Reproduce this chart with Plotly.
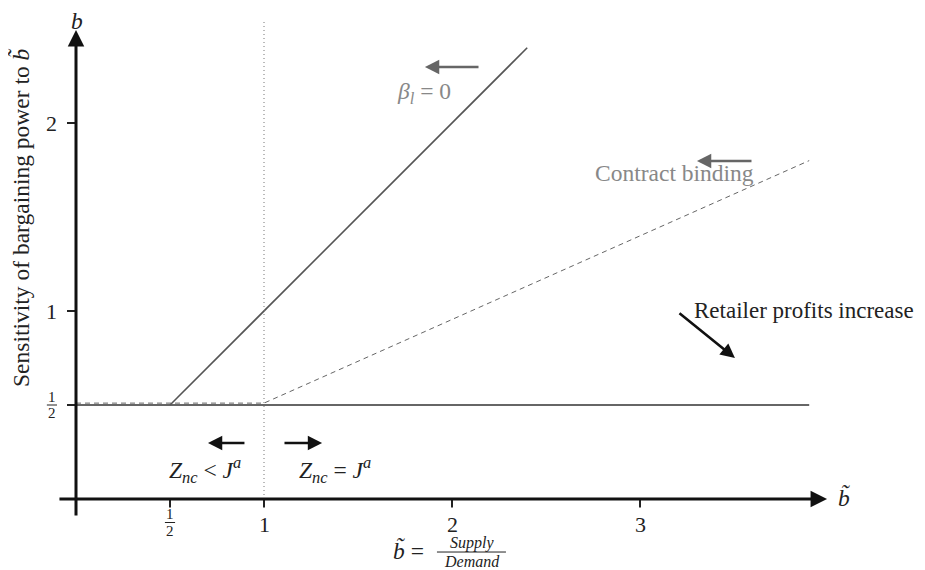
import plotly.graph_objects as go

# ---------------- data ----------------
# beta_l = 0 schedule (solid)
beta_x = [0.5, 2.4]
beta_y = [0.5, 2.4]
# flat schedule at 1/2 (solid)
flat_x = [0, 3.9]
flat_y = [0.5, 0.5]
# contract binding schedule (dashed)
contract_x = [0, 1, 3.9]
contract_y = [0.51, 0.51, 1.8]
# dotted divider at b~ = 1
divider_x = [1, 1]
divider_y = [0, 2.55]

x_tick_vals = [0.5, 1, 2, 3]
x_tick_text = ["1/2", "1", "2", "3"]
y_tick_vals = [0.5, 1, 2]
y_tick_text = ["1/2", "1", "2"]

FONT = "'Liberation Serif', 'Times New Roman', 'DejaVu Serif', serif"
FS = 23.5
TICK_FS = 22

fig = go.Figure()

fig.add_trace(go.Scatter(x=flat_x, y=flat_y, mode="lines",
                         line=dict(color="#333333", width=1.6), hoverinfo="skip"))
fig.add_trace(go.Scatter(x=contract_x, y=contract_y, mode="lines",
                         line=dict(color="#666666", width=1, dash="5px,4px"), hoverinfo="skip"))
fig.add_trace(go.Scatter(x=beta_x, y=beta_y, mode="lines",
                         line=dict(color="#555555", width=1.6), hoverinfo="skip"))
fig.add_trace(go.Scatter(x=divider_x, y=divider_y, mode="lines",
                         line=dict(color="#777777", width=1, dash="1px,3px"), hoverinfo="skip"))

ann = []
shapes = []

def arrow(x0, y0, x1, y1, color="#111111", width=2.6):
    ann.append(dict(x=x1, y=y1, ax=x0, ay=y0, xref="x", yref="y", axref="x", ayref="y",
                    text="", showarrow=True, arrowhead=2, arrowsize=1.1,
                    arrowwidth=width, arrowcolor=color, standoff=0, startstandoff=0))

def text(x, y, s, size=FS, color="#222222", xanchor="center", yanchor="middle", angle=0):
    ann.append(dict(x=x, y=y, xref="x", yref="y", text=s, showarrow=False,
                    font=dict(family=FONT, size=size, color=color),
                    xanchor=xanchor, yanchor=yanchor, textangle=angle))

def frac(x, y, num, den, size=15, half=0.027, gap=0.044):
    text(x, y + gap, num, size=size)
    text(x, y - gap, den, size=size)
    shapes.append(dict(type="line", xref="x", yref="y", x0=x - half, x1=x + half,
                       y0=y, y1=y, line=dict(color="#222222", width=1)))

# axes
arrow(-0.096, 0, 3.995, 0, width=3)
arrow(0, -0.096, 0, 2.495, width=3)

# ticks
for v, t in zip(x_tick_vals, x_tick_text):
    shapes.append(dict(type="line", xref="x", yref="y", x0=v, x1=v, y0=0, y1=-0.045,
                       line=dict(color="#222222", width=2)))
    if "/" in t:
        n, d = t.split("/")
        frac(v, -0.125, n, d)
    else:
        text(v, -0.133, t, size=TICK_FS)
for v, t in zip(y_tick_vals, y_tick_text):
    shapes.append(dict(type="line", xref="x", yref="y", x0=-0.048, x1=0, y0=v, y1=v,
                       line=dict(color="#222222", width=2)))
    if "/" in t:
        n, d = t.split("/")
        frac(-0.128, v, n, d)
    else:
        text(-0.128, v, t, size=TICK_FS)

# axis labels
text(0.005, 2.545, "<i>b</i>")
text(4.09, 0.01, "<i>b\u0303</i>")
text(-0.298, 1.5, "Sensitivity of bargaining power to <i>b\u0303</i>", angle=-90)
text(1.771, -0.275, "<i>b\u0303</i> =")
text(2.106, -0.234, "<i>Supply</i>", size=16)
text(2.106, -0.33, "<i>Demand</i>", size=16)
shapes.append(dict(type="line", xref="x", yref="y", x0=1.92, x1=2.287, y0=-0.282, y1=-0.282,
                   line=dict(color="#222222", width=1)))

# annotations
text(1.851, 2.16, "<i>β</i><sub><i>l</i></sub> = 0", color="#888888")
arrow(2.149, 2.298, 1.856, 2.298, color="#666666")
text(3.181, 1.734, "Contract binding", color="#888888")
arrow(3.601, 1.798, 3.303, 1.798, color="#666666")
text(3.275, 1.005, "Retailer profits increase", size=23, xanchor="left")
arrow(3.202, 0.995, 3.505, 0.75)
text(0.684, 0.154, "<i>Z</i><sub><i>nc</i></sub> &lt; <i>J</i><sup><i>a</i></sup>")
text(1.378, 0.154, "<i>Z</i><sub><i>nc</i></sub> = <i>J</i><sup><i>a</i></sup>")
arrow(0.904, 0.298, 0.702, 0.298)
arrow(1.101, 0.298, 1.309, 0.298)

# page body has an 8px margin: shift the plot so data positions match the reference
W, H = 917, 562
X0PX, Y0PX, UNIT = 68, 491, 188

fig.update_layout(
    width=W, height=H, autosize=False,
    margin=dict(l=0, r=0, t=0, b=0),
    paper_bgcolor="white", plot_bgcolor="white",
    showlegend=False,
    xaxis=dict(range=[-X0PX / UNIT, (W - X0PX) / UNIT], visible=False, fixedrange=True),
    yaxis=dict(range=[-(H - Y0PX) / UNIT, Y0PX / UNIT], visible=False, fixedrange=True),
    annotations=ann, shapes=shapes,
)

fig.write_html("out.html")
